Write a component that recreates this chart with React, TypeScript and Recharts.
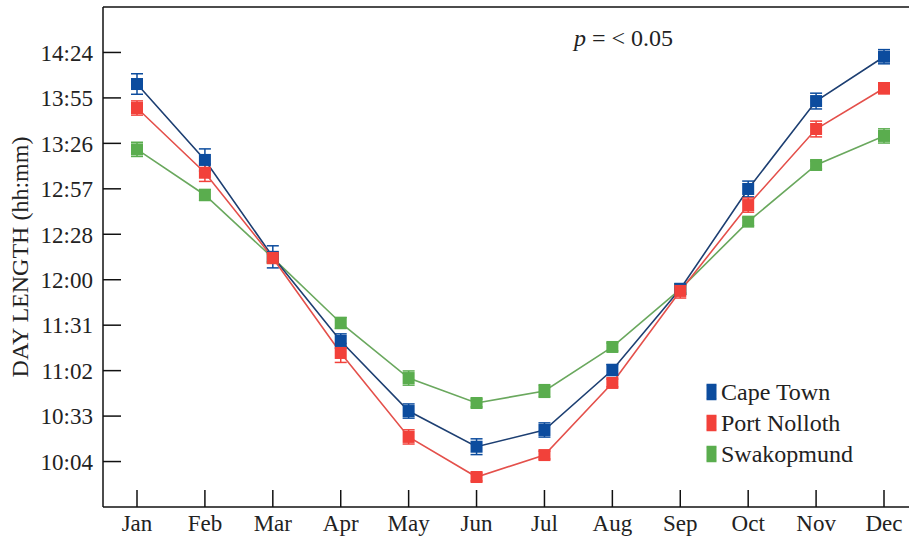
import React from 'react';
import { LineChart, Line, XAxis, YAxis, ErrorBar, Legend, ReferenceLine } from 'recharts';

const months = ['Jan', 'Feb', 'Mar', 'Apr', 'May', 'Jun', 'Jul', 'Aug', 'Sep', 'Oct', 'Nov', 'Dec'];

// day length in minutes
const capeTown = [844.0, 795.9, 734.5, 681.2, 636.8, 614.2, 624.8, 662.8, 714.1, 777.5, 833.2, 861.3];
const portNolloth = [828.8, 787.8, 733.8, 673.6, 620.4, 595.0, 608.9, 654.6, 712.9, 767.3, 815.5, 841.3];
const swakopmund = [802.6, 773.7, 733.8, 692.6, 657.7, 641.9, 649.5, 677.4, 714.1, 756.8, 792.7, 811.1];

const capeTownErr = [6.5, 7, 7, 4.5, 4.5, 5, 4.5, 3.5, 3.5, 5, 5, 4.5];
const portNollothErr = [4.5, 5.5, 3.5, 6, 4.5, 2.5, 2.5, 2.5, 4.5, 4.5, 5, 3.5];
const swakopmundErr = [4.5, 3.5, 2.5, 3.5, 4.5, 2.5, 4, 2.5, 2.5, 2.5, 2.5, 4.5];

const yTicks = [604.8, 633.6, 662.4, 691.2, 720, 748.8, 777.6, 806.4, 835.2, 864];

const series = [
  { key: 'swakopmund', name: 'Swakopmund', marker: '#5aad4e', line: '#6aa85e' },
  { key: 'capeTown', name: 'Cape Town', marker: '#0c4c9e', line: '#1d3f72' },
  { key: 'portNolloth', name: 'Port Nolloth', marker: '#f2413a', line: '#e4504b' },
];
const legendOrder = ['capeTown', 'portNolloth', 'swakopmund'];

const data = months.map((m, i) => ({
  month: m,
  capeTown: capeTown[i],
  portNolloth: portNolloth[i],
  swakopmund: swakopmund[i],
  capeTownErr: capeTownErr[i],
  portNollothErr: portNollothErr[i],
  swakopmundErr: swakopmundErr[i],
}));

const FONT = '"Liberation Serif", "Times New Roman", serif';

const fmt = (v: number) => {
  const h = Math.floor(v / 60);
  const m = Math.floor(v - h * 60 + 1e-6);
  return `${h}:${m < 10 ? '0' + m : m}`;
};

const YTick = (props: any) => {
  const { x, y, payload } = props;
  return (
    <g>
      <line x1={x + 10} x2={x + 28} y1={y} y2={y} stroke="#111" strokeWidth={1.5} />
      <text x={x} y={y} dy="0.36em" textAnchor="end" fontSize={23} fontFamily={FONT} fill="#222">
        {fmt(payload.value)}
      </text>
    </g>
  );
};

const XTick = (props: any) => {
  const { x, y, payload } = props;
  return (
    <g>
      <line x1={x} x2={x} y1={y - 8} y2={y - 25} stroke="#111" strokeWidth={1.5} />
      <text x={x} y={y} dy="0.71em" textAnchor="middle" fontSize={23} fontFamily={FONT} fill="#222">
        {payload.value}
      </text>
    </g>
  );
};

const SquareDot = (color: string) => (props: any) => {
  const { cx, cy, index } = props;
  if (cx == null || cy == null) return null;
  return <rect key={index} x={cx - 6} y={cy - 6} width={12} height={12} fill={color} />;
};

const LegendBox = () => (
  <div style={{ fontFamily: FONT, fontSize: 24, color: '#222', lineHeight: 1 }}>
    {legendOrder.map((k) => {
      const s = series.find((x) => x.key === k)!;
      return (
        <div key={k} style={{ display: 'flex', alignItems: 'center', height: 31 }}>
          <svg width={13} height={20} style={{ marginRight: 3 }}>
            <rect x={1.5} y={3} width={10} height={14} fill={s.marker} />
            <line x1={1.5} x2={11.5} y1={2.5} y2={2.5} stroke={s.marker} strokeWidth={1.5} />
            <line x1={1.5} x2={11.5} y1={17.5} y2={17.5} stroke={s.marker} strokeWidth={1.5} />
          </svg>
          <span>{s.name}</span>
        </div>
      );
    })}
  </div>
);

export default function App() {
  return (
    <div style={{ position: 'fixed', left: 0, top: 0, width: 909, height: 540, overflow: 'hidden', background: '#fff' }}>
      <LineChart width={920} height={540} data={data} margin={{ top: 7, right: 0, left: 0, bottom: 0 }}>
        <XAxis
          dataKey="month"
          height={33}
          padding={{ left: 34, right: 36 }}
          tickSize={0}
          tickMargin={8}
          tick={<XTick />}
          axisLine={{ stroke: '#111', strokeWidth: 1.5 }}
          interval={0}
        />
        <YAxis
          type="number"
          domain={[576, 892.8]}
          ticks={yTicks}
          width={103}
          tickSize={0}
          tickMargin={10}
          tick={<YTick />}
          axisLine={{ stroke: '#111', strokeWidth: 1.5 }}
          allowDataOverflow
          label={{
            value: 'DAY LENGTH (hh:mm)',
            angle: -90,
            position: 'insideLeft',
            dx: 14,
            style: { textAnchor: 'middle', fontSize: 24, fontFamily: FONT, fill: '#222' },
          }}
        />
        <ReferenceLine y={892.8} stroke="#111" strokeWidth={1.5} />
        {series.map((s) => (
          <Line
            key={s.key}
            dataKey={s.key}
            name={s.name}
            stroke={s.line}
            strokeWidth={1.6}
            dot={SquareDot(s.marker)}
            activeDot={false}
            isAnimationActive={false}
          >
            <ErrorBar
              dataKey={`${s.key}Err`}
              width={6}
              stroke={s.marker}
              strokeWidth={1.5}
              direction="y"
              isAnimationActive={false}
            />
          </Line>
        ))}
        <Legend
          layout="vertical"
          align="center"
          verticalAlign="middle"
          content={<LegendBox />}
          wrapperStyle={{ left: 705, top: 376, width: 'auto' }}
        />
      </LineChart>
      <div
        style={{
          position: 'absolute',
          left: 574,
          top: 25,
          fontFamily: FONT,
          fontSize: 24,
          color: '#222',
          whiteSpace: 'pre',
        }}
      >
        <i>p</i> = &lt; 0.05
      </div>
    </div>
  );
}
